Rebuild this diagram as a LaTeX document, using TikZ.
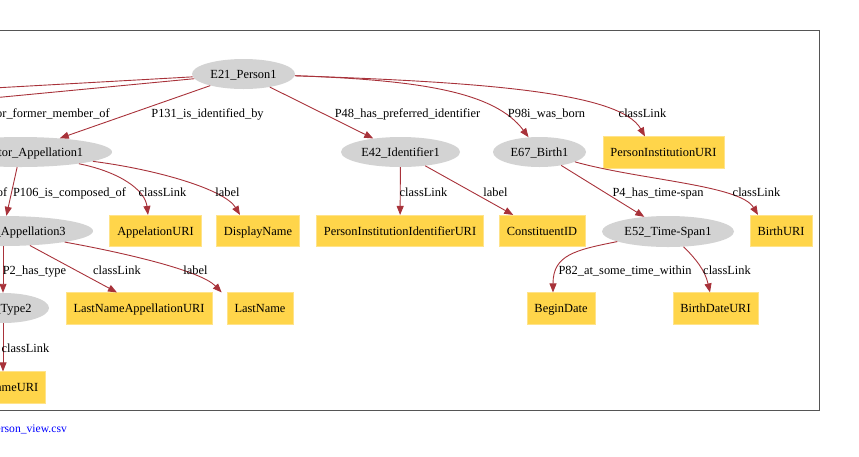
\documentclass[tikz,border=0pt]{standalone}
\usepackage{fontspec}
\usetikzlibrary{shapes.geometric,arrows.meta}
\newfontfamily\gvserif{Liberation Serif}
\newcommand\gvlabelfont{\gvserif\fontsize{12.4}{14}\selectfont}
\newcommand\gvsrcfont{\gvserif\fontsize{11.6}{13}\selectfont}
\definecolor{entgray}{HTML}{D3D3D3}
\definecolor{litgold}{HTML}{FFD54A}
\definecolor{litedge}{HTML}{FFE38A}
\definecolor{relred}{HTML}{A8323A}
\definecolor{framecol}{HTML}{555555}
\definecolor{srcblue}{HTML}{0000FF}
\tikzset{
  ent/.style={ellipse, fill=entgray, draw=none, minimum height=30pt, inner sep=0pt,
              font=\gvlabelfont, text height=9.5pt, text depth=0.9pt},
  lit/.style={rectangle, fill=litgold, draw=litedge, line width=0.6pt, minimum height=31.5pt,
              inner xsep=7.5pt, inner ysep=0pt, font=\gvlabelfont, text height=9.5pt, text depth=0.9pt},
  rel/.style={draw=relred, line width=0.9pt, -{Triangle[length=9pt,width=7pt]}},
  tag/.style={font=\gvlabelfont, inner sep=0pt, text height=9.5pt, text depth=0.9pt},
}
\begin{document}
\begin{tikzpicture}[x=1pt,y=-1pt]
\useasboundingbox (0,0) rectangle (859,456);
\clip (0,0) rectangle (859,456);

% outer frame of the graph
\draw[framecol, line width=1pt] (-20,30.5) -- (819.5,30.5) -- (819.5,410.5) -- (-20,410.5);

% row 1
\node[ent, minimum width=103pt] (p1) at (243.5,74) {E21\_Person1};
\node[ent, minimum width=183pt] (act1) at (20.5,152) {E82\_Actor\_Appellation1};
\node[ent, minimum width=119pt] (e42) at (400.5,152) {E42\_Identifier1};
\node[ent, minimum width=93pt] (e67) at (539.5,152) {E67\_Birth1};
\node[lit, minimum width=121pt] (piu) at (663.5,152.5) {PersonInstitutionURI};

% row 2
\node[ent, minimum width=180pt] (act3) at (3,231) {E82\_Actor\_Appellation3};
\node[lit, minimum width=91pt] (appuri) at (155.5,231) {AppelationURI};
\node[lit, minimum width=82pt] (disp) at (258,231) {DisplayName};
\node[lit, minimum width=167pt] (piid) at (400,231) {PersonInstitutionIdentifierURI};
\node[lit, minimum width=86pt] (cid) at (542,231) {ConstituentID};
\node[ent, minimum width=132pt, minimum height=31pt] (e52) at (668,231.5) {E52\_Time-Span1};
\node[lit, minimum width=62pt] (burl) at (781,231) {BirthURI};

% row 3
\node[ent, minimum width=92pt] (type2) at (3,308) {E55\_Type2};
\node[lit, minimum width=146pt] (lnau) at (139,308.5) {LastNameAppellationURI};
\node[lit, minimum width=66pt] (ln) at (260,308.5) {LastName};
\node[lit, minimum width=68pt] (bd) at (561,308.5) {BeginDate};
\node[lit, minimum width=85pt] (bdu) at (715.5,308.5) {BirthDateURI};

% row 4
\node[lit, anchor=east] (tnu) at (46,387.5) {TypeNameURI};

% edges leaving towards the left
\coordinate (offA) at (-60,91);
\coordinate (offB) at (-60,103);
\draw[rel] (p1) -- (offA);
\draw[rel] (p1) -- (offB);

% edges
\draw[rel] (p1) -- (act1);
\draw[rel] (p1) -- (e42);
\draw[rel] (p1) .. controls (420,80) and (495,92) .. (e67);
\draw[rel] (p1) .. controls (480,82) and (620,92) .. ([xshift=-18.5pt]piu.north);

\draw[rel] (act1) -- (act3);
\draw[rel] (act1) .. controls (120,172) and (145,190) .. ([xshift=-7.5pt]appuri.north);
\draw[rel] (act1) .. controls (160,170) and (225,190) .. ([xshift=-18pt]disp.north);

\draw[rel] (e42) -- (piid);
\draw[rel] (e42) -- (cid);

\draw[rel] (e67) -- (e52);
\draw[rel] (e67) .. controls (640,180) and (740,185) .. ([xshift=-23pt]burl.north);

\draw[rel] (act3) -- (type2);
\draw[rel] (act3) -- ([xshift=-22pt]lnau.north);
\draw[rel] (act3) .. controls (120,252) and (200,270) .. ([xshift=-5pt]ln.north west);

\draw[rel] (e52) .. controls (575,250) and (553,255) .. ([xshift=-8pt]bd.north);
\draw[rel] (e52) .. controls (695,258) and (705,270) .. ([xshift=-5.5pt]bdu.north);

\draw[rel] (type2) -- (type2 |- tnu.north);

% edge labels
\node[tag, anchor=east] (l1) at (110,113) {P107i\_is\_current\_or\_former\_member\_of};
\node[tag] (l2) at (207.5,113) {P131\_is\_identified\_by};
\node[tag] (l3) at (407.5,113) {P48\_has\_preferred\_identifier};
\node[tag] (l4) at (546.5,113) {P98i\_was\_born};
\node[tag] (l5) at (642.5,113) {classLink};

\node[tag, anchor=east] (l6) at (7.5,192) {P106\_is\_composed\_of};
\node[tag] (l7) at (69.5,192) {P106\_is\_composed\_of};
\node[tag] (l8) at (162.5,192) {classLink};
\node[tag] (l9) at (227.5,192) {label};
\node[tag] (l10) at (423.5,192) {classLink};
\node[tag] (l11) at (495.5,192) {label};
\node[tag] (l12) at (658,192) {P4\_has\_time-span};
\node[tag] (l13) at (756.5,192) {classLink};

\node[tag] (l14) at (34.5,270) {P2\_has\_type};
\node[tag] (l15) at (117,270) {classLink};
\node[tag] (l16) at (195.5,270) {label};
\node[tag] (l17) at (625,270) {P82\_at\_some\_time\_within};
\node[tag] (l18) at (727,270) {classLink};

\node[tag] (l19) at (25.5,348) {classLink};

% source file caption
\node[tag, anchor=east, font=\gvsrcfont, text=srcblue] (src) at (67,428) {person\_view.csv};
\end{tikzpicture}
\end{document}
